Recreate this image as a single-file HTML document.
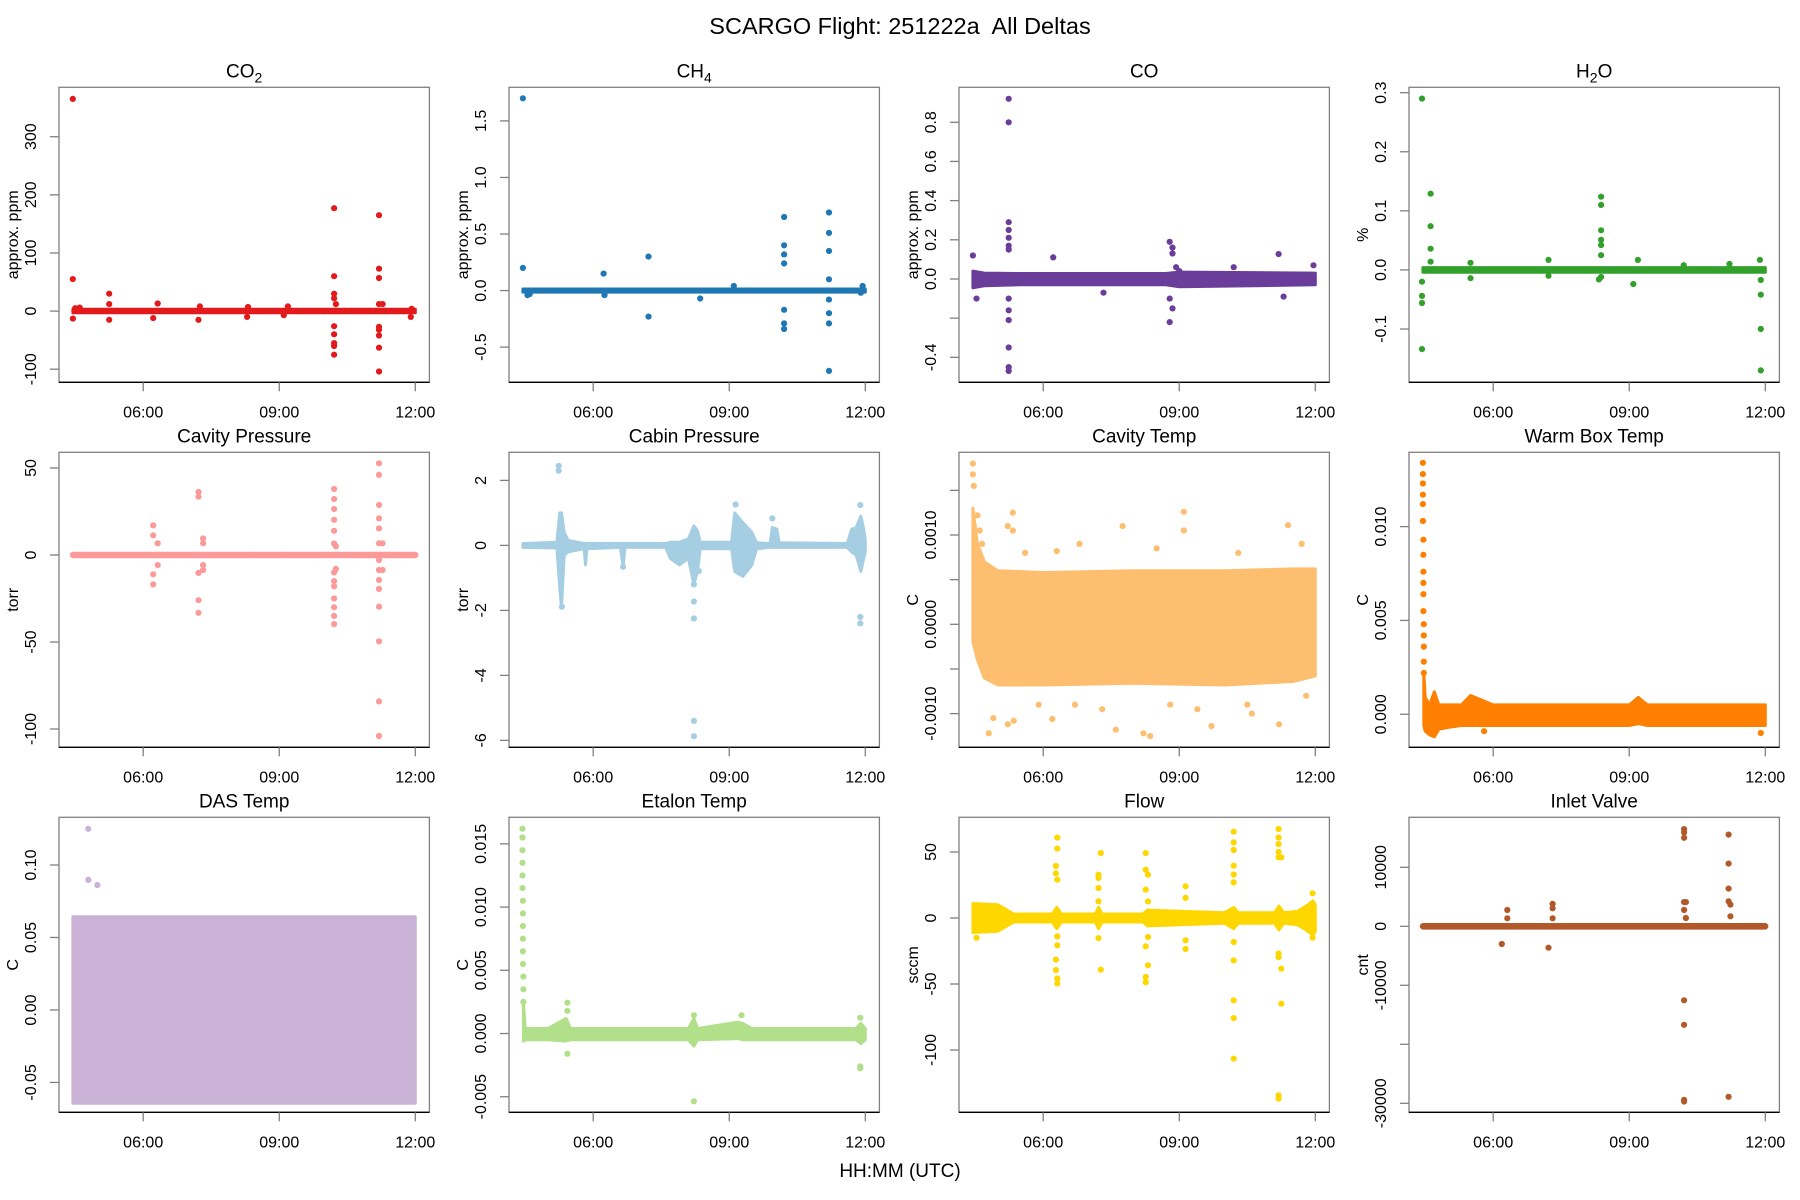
<!DOCTYPE html>
<html><head><meta charset="utf-8"><title>SCARGO Flight 251222a All Deltas</title>
<style>
html,body{margin:0;padding:0;background:#fff;}
svg{display:block;font-family:"Liberation Sans",Arial,sans-serif;}
</style></head>
<body>
<svg id="chart" xmlns="http://www.w3.org/2000/svg" width="1800" height="1200" viewBox="0 0 1800 1200">
<rect x="0" y="0" width="1800" height="1200" fill="#fff"/>
<text x="900" y="34" text-anchor="middle" font-size="23.5" style="white-space:pre" xml:space="preserve">SCARGO Flight: 251222a  All Deltas</text>
<text x="900" y="1177" text-anchor="middle" font-size="19">HH:MM (UTC)</text>
<g id="panels"></g>
</svg>
<script>
// ---- shared x axis data ----
const xTickValues = [6, 9, 12];
const xTickLabels = ["06:00", "09:00", "12:00"];

// ---- CO2 ----
const co2BandT = [4.45, 12.0];
const co2BandLo = [-3, -3];
const co2BandHi = [3, 3];
const co2PtT = [4.447,4.447,4.45,4.5,4.6,5.25,5.25,5.25,6.22,6.32,7.22,7.25,8.29,8.31,9.19,9.1,10.21,10.21,10.21,10.21,10.25,10.21,10.21,10.21,10.21,10.21,11.2,11.2,11.2,11.2,11.28,11.2,11.2,11.2,11.2,11.2,11.9,11.92];
const co2PtV = [365,55,-13,5,6,30,-15,12,-12,13,-15,8,-10,7,8,-7,177,60,30,22,12,-26,-40,-55,-60,-75,165,73,57,12,12,-27,-32,-42,-63,-104,-10,4];

// ---- CH4 ----
const ch4BandT = [4.45, 12.0];
const ch4BandLo = [-0.014, -0.014];
const ch4BandHi = [0.014, 0.014];
const ch4PtT = [4.45,4.45,4.55,4.6,6.23,6.25,7.22,7.22,8.36,9.1,10.21,10.21,10.21,10.21,10.21,10.21,10.21,11.2,11.2,11.2,11.2,11.2,11.2,11.2,11.2,11.94,11.9];
const ch4PtV = [1.70,0.20,-0.04,-0.03,0.15,-0.04,0.30,-0.23,-0.07,0.04,0.65,0.40,0.32,0.24,-0.17,-0.29,-0.34,0.69,0.51,0.35,0.10,-0.08,-0.20,-0.29,-0.71,0.04,-0.02];

// ---- CO ----
const coBandT = [4.45, 4.7, 5.5, 8.7, 9.0, 12.0];
const coBandLo = [-0.045, -0.035, -0.03, -0.03, -0.04, -0.03];
const coBandHi = [0.04, 0.03, 0.028, 0.028, 0.035, 0.03];
const coPtT = [4.45,4.53,5.24,5.24,5.24,5.24,5.24,5.24,5.24,5.24,5.24,5.24,5.24,5.24,5.24,6.22,7.33,8.79,8.85,8.85,8.79,8.79,8.85,8.93,9.0,10.2,11.19,11.3,11.96];
const coPtV = [0.12,-0.10,0.92,0.80,0.29,0.25,0.21,0.17,0.15,-0.10,-0.16,-0.21,-0.35,-0.45,-0.47,0.11,-0.07,0.19,0.16,0.13,-0.10,-0.22,-0.15,0.06,0.04,0.06,0.127,-0.09,0.07];

// ---- H2O ----
const h2oBandT = [4.45, 12.0];
const h2oBandLo = [-0.004, -0.004];
const h2oBandHi = [0.004, 0.004];
const h2oPtT = [4.43,4.43,4.43,4.43,4.43,4.62,4.62,4.62,4.62,5.5,5.5,7.22,7.22,8.38,8.38,8.38,8.38,8.38,8.38,8.38,8.33,9.09,9.19,10.2,11.21,11.90,11.90,11.90,11.90,11.88];
const h2oPtV = [0.29,-0.02,-0.044,-0.056,-0.134,0.129,0.074,0.036,0.014,-0.014,0.012,0.017,-0.010,0.124,0.11,0.067,0.051,0.042,0.025,-0.012,-0.016,-0.024,0.017,0.008,0.01,-0.017,-0.042,-0.1,-0.17,0.017];

// ---- Cavity Pressure ----
const cavpBandT = [4.45, 12.0];
const cavpBandLo = [-1, -1];
const cavpBandHi = [1, 1];
const cavpPtT = [4.45,12.0,6.22,6.22,6.22,6.22,6.32,6.32,7.22,7.22,7.22,7.22,7.22,7.32,7.32,7.32,7.32,8.35,9.15,10.21,10.21,10.21,10.21,10.21,10.21,10.21,10.21,10.21,10.21,10.21,10.21,10.21,10.25,10.25,11.2,11.2,11.2,11.2,11.2,11.2,11.2,11.2,11.2,11.2,11.2,11.2,11.2,11.2,11.28,11.28];
const cavpPtV = [0,0,17,11.3,-11.1,-16.9,6.7,-5.8,36.2,33.5,-10.3,-26,-33.2,9.5,6.7,-5.8,-8.6,0,0,37.9,32.1,26.4,20.2,13.9,6.6,-10,-15,-18,-25,-30,-35,-39.7,5,-8,52.7,46,28.7,21,15.3,6.7,-2.9,-8.6,-14.4,-19.5,-29.7,-49.6,-84.1,-104,6.7,-8.6];

// ---- Cabin Pressure ----
const cabpBandT = [4.45,5.2,5.26,5.3,5.36,5.45,5.8,5.83,5.86,6.6,6.66,6.7,7.6,7.7,7.9,8.1,8.22,8.3,8.36,9.05,9.12,9.3,9.5,9.6,9.9,9.95,10.05,10.1,11.6,11.7,11.8,11.9,11.95,12.0];
const cabpBandLo = [-0.06,-0.08,-1.3,-1.9,-0.3,-0.2,-0.1,-0.6,-0.1,-0.06,-0.66,-0.06,-0.06,-0.4,-0.6,-0.4,-1.2,-0.8,-0.1,-0.1,-0.8,-0.95,-0.6,-0.1,-0.06,-0.06,-0.06,-0.06,-0.06,-0.2,-0.3,-0.8,-0.5,-0.2];
const cabpBandHi = [0.06,0.1,1.0,1.0,0.4,0.15,0.06,0.06,0.06,0.06,0.06,0.06,0.06,0.1,0.1,0.2,0.6,0.45,0.1,0.1,1.0,0.7,0.4,0.08,0.06,0.55,0.5,0.08,0.06,0.5,0.55,0.9,0.6,0.2];
const cabpPtT = [5.24,5.24,5.31,6.66,8.22,8.22,8.22,8.22,8.22,8.33,9.14,9.95,11.89,11.89,11.89];
const cabpPtV = [2.45,2.3,-1.89,-0.66,-1.2,-1.73,-2.25,-5.4,-5.87,-0.79,1.26,0.83,1.24,-2.2,-2.4];

// ---- Cavity Temp ----
const cavtBandT = [4.45, 4.55, 4.7, 5.0, 6.0, 8.0, 10.0, 11.5, 12.0];
const cavtBandLo = [-0.0002, -0.0004, -0.0006, -0.00068, -0.00068, -0.00066, -0.00068, -0.00064, -0.00058];
const cavtBandHi = [0.0013, 0.0009, 0.0007, 0.0006, 0.00058, 0.0006, 0.0006, 0.00062, 0.00062];
const cavtPtT = [4.45,4.45,4.47,4.55,4.6,4.65,5.22,5.33,5.33,5.6,6.3,6.8,7.75,8.5,9.1,9.1,10.3,11.4,11.7,4.80,5.22,5.35,5.9,6.7,7.3,8.21,8.36,8.8,9.4,9.71,10.5,11.2,4.9,6.2,7.6,10.6,11.8];
const cavtPtV = [0.0018,0.00168,0.00155,0.00122,0.00105,0.0009,0.0011,0.00125,0.00105,0.0008,0.00082,0.0009,0.0011,0.00085,0.00126,0.00105,0.0008,0.00111,0.0009,-0.00122,-0.00112,-0.00108,-0.0009,-0.0009,-0.00095,-0.00122,-0.00125,-0.0009,-0.00095,-0.00114,-0.0009,-0.00112,-0.00105,-0.00106,-0.00118,-0.001,-0.0008];

// ---- Warm Box Temp ----
const warmBandT = [4.47, 4.5, 4.6, 4.7, 4.8, 5.0, 5.3, 5.5, 6.0, 9.0, 9.2, 9.4, 12.0];
const warmBandLo = [-0.0006, -0.0009, -0.0011, -0.0012, -0.0008, -0.0007, -0.0006, -0.0006, -0.0006, -0.0006, -0.0005, -0.0006, -0.0006];
const warmBandHi = [0.0022, 0.0009, 0.0005, 0.0012, 0.0005, 0.0005, 0.0005, 0.001, 0.0005, 0.0005, 0.0009, 0.0005, 0.0005];
const warmPtT = [4.45,4.45,4.45,4.45,4.45,4.45,4.46,4.46,4.46,4.46,4.46,4.46,4.47,4.47,4.47,4.47,4.47,5.8,11.9];
const warmPtV = [0.0134,0.0128,0.0123,0.0117,0.0112,0.0103,0.0093,0.0085,0.0076,0.0070,0.0064,0.0055,0.0048,0.0042,0.0036,0.0028,0.0022,-0.0009,-0.001];

// ---- DAS Temp ----
const dasBandT = [4.45, 12.0];
const dasBandLo = [-0.0643, -0.0643];
const dasBandHi = [0.0643, 0.0643];
const dasPtT = [4.79, 4.79, 4.99];
const dasPtV = [0.125, 0.0897, 0.0862];

// ---- Etalon Temp ----
const etalBandT = [4.46, 4.5, 5.0, 5.4, 5.5, 8.1, 8.22, 8.3, 9.2, 9.3, 9.5, 11.8, 11.9, 12.0];
const etalBandLo = [-0.0006, -0.0005, -0.0005, -0.0006, -0.0005, -0.0005, -0.001, -0.0005, -0.0004, -0.0005, -0.0005, -0.0005, -0.0008, -0.0005];
const etalBandHi = [0.0025, 0.0004, 0.0004, 0.0012, 0.0004, 0.0004, 0.0012, 0.0004, 0.0009, 0.0008, 0.0004, 0.0004, 0.0008, 0.0004];
const etalPtT = [4.44,4.44,4.44,4.44,4.44,4.44,4.45,4.45,4.45,4.45,4.45,4.45,4.46,4.46,4.46,5.43,5.43,5.43,8.22,8.22,9.27,11.89,11.89,11.89];
const etalPtV = [0.0162,0.0155,0.0145,0.0135,0.0125,0.0115,0.0105,0.0095,0.0085,0.0075,0.0065,0.0055,0.0045,0.0035,0.0025,0.00244,0.0018,-0.0016,0.00145,-0.00536,0.00145,0.00125,-0.00275,-0.0026];

// ---- Flow ----
const flowBandT = [4.45, 5.0, 5.2, 5.35, 6.2, 6.3, 6.4, 7.15, 7.22, 7.3, 8.2, 8.3, 10.0, 10.2, 10.3, 11.1, 11.2, 11.3, 11.6, 11.8, 11.95, 12.0];
const flowBandLo = [-11, -10, -6, -3, -3, -8, -3, -3, -8, -3, -3, -6, -4, -8, -4, -4, -9, -4, -5, -9, -13, -10];
const flowBandHi = [11, 10, 6, 3, 3, 8, 3, 3, 8, 3, 3, 6, 4, 8, 4, 4, 9, 4, 5, 9, 13, 10];
const flowPtT = [4.53,6.31,6.31,6.28,6.28,6.31,6.31,6.31,6.28,6.28,6.31,6.31,7.22,7.22,7.22,7.22,7.22,7.27,7.27,8.26,8.26,8.26,8.26,8.26,8.26,8.31,8.31,8.31,8.31,9.14,9.14,9.14,9.14,10.2,10.2,10.2,10.2,10.2,10.2,10.2,10.2,10.2,10.2,10.2,11.19,11.19,11.19,11.19,11.19,11.19,11.19,11.19,11.19,11.25,11.25,11.25,11.94,11.94];
const flowPtV = [-15,60.9,52.6,39.4,33.9,29,-13.9,-20.7,-31.5,-39.5,-45.8,-49.6,32.8,30.3,22.7,12.6,-15.2,49.2,-39.2,49.2,36.6,21.5,-21.5,-44.7,-48.7,32.8,12.6,-14.4,-35.8,24,15.2,-16.9,-23.5,65.4,57.3,51.5,39.6,33,27,-18.2,-32.1,-62.4,-75.8,-106.6,67.4,61,56,50,46,-27,-29.6,-136.9,-134.3,46,-38.4,-64.9,18.7,-14.9];

// ---- Inlet Valve ----
const inletBandT = [4.45, 12.0];
const inletBandLo = [-300, -300];
const inletBandHi = [300, 300];
const inletPtT = [4.45,12.0,6.31,6.31,6.19,7.31,7.31,7.22,7.31,10.21,10.21,10.21,10.21,10.21,10.21,10.21,10.21,10.21,10.25,10.25,11.19,11.19,11.19,11.19,11.19,11.23,11.23];
const inletPtV = [0,0,2770,1360,-3000,3790,3050,-3620,1360,16480,15900,15000,4100,2770,-12550,-16700,-29400,-29700,4100,1400,15550,10630,6390,4240,-28900,3670,1690];

// ---- panel setup (layout / axes, not data) ----
const panels = [
 {id:"co2", title:["CO","2",""], ylab:"approx. ppm", color:"#E31A1C", col:0,row:0, y0:-122.5,y1:385, ticks:[-100,0,100,200,300], labels:["-100","0","100","200","300"], bt:co2BandT,bl:co2BandLo,bh:co2BandHi,pt:co2PtT,pv:co2PtV},
 {id:"ch4", title:["CH","4",""], ylab:"approx. ppm", color:"#1F78B4", col:1,row:0, y0:-0.811,y1:1.797, ticks:[-0.5,0,0.5,1,1.5], labels:["-0.5","0.0","0.5","1.0","1.5"], bt:ch4BandT,bl:ch4BandLo,bh:ch4BandHi,pt:ch4PtT,pv:ch4PtV},
 {id:"co", title:["CO","",""], ylab:"approx. ppm", color:"#6A3D9A", col:2,row:0, y0:-0.5275,y1:0.9785, ticks:[-0.4,-0.2,0,0.2,0.4,0.6,0.8], labels:["-0.4","","0.0","0.2","0.4","0.6","0.8"], bt:coBandT,bl:coBandLo,bh:coBandHi,pt:coPtT,pv:coPtV},
 {id:"h2o", title:["H","2","O"], ylab:"%", color:"#33A02C", col:3,row:0, y0:-0.1902,y1:0.3091, ticks:[-0.1,0,0.1,0.2,0.3], labels:["-0.1","0.0","0.1","0.2","0.3"], bt:h2oBandT,bl:h2oBandLo,bh:h2oBandHi,pt:h2oPtT,pv:h2oPtV},
 {id:"cavity-pressure", title:["Cavity Pressure","",""], ylab:"torr", color:"#FB9A99", col:0,row:1, y0:-110.5,y1:59, ticks:[-100,-50,0,50], labels:["-100","-50","0","50"], bt:cavpBandT,bl:cavpBandLo,bh:cavpBandHi,pt:cavpPtT,pv:cavpPtV},
 {id:"cabin-pressure", title:["Cabin Pressure","",""], ylab:"torr", color:"#A6CEE3", col:1,row:1, y0:-6.213,y1:2.865, ticks:[-6,-4,-2,0,2], labels:["-6","-4","-2","0","2"], bt:cabpBandT,bl:cabpBandLo,bh:cabpBandHi,pt:cabpPtT,pv:cabpPtV},
 {id:"cavity-temp", title:["Cavity Temp","",""], ylab:"C", color:"#FDBF6F", col:2,row:1, y0:-0.001377,y1:0.001926, ticks:[-0.001,-0.0005,0,0.0005,0.001,0.0015], labels:["-0.0010","","0.0000","","0.0010",""], bt:cavtBandT,bl:cavtBandLo,bh:cavtBandHi,pt:cavtPtT,pv:cavtPtV},
 {id:"warm-box-temp", title:["Warm Box Temp","",""], ylab:"C", color:"#FF7F00", col:3,row:1, y0:-0.00176,y1:0.01396, ticks:[0,0.005,0.01], labels:["0.000","0.005","0.010"], bt:warmBandT,bl:warmBandLo,bh:warmBandHi,pt:warmPtT,pv:warmPtV},
 {id:"das-temp", title:["DAS Temp","",""], ylab:"C", color:"#CAB2D6", col:0,row:2, y0:-0.0706,y1:0.1329, ticks:[-0.05,0,0.05,0.1], labels:["-0.05","0.00","0.05","0.10"], bt:dasBandT,bl:dasBandLo,bh:dasBandHi,pt:dasPtT,pv:dasPtV},
 {id:"etalon-temp", title:["Etalon Temp","",""], ylab:"C", color:"#B2DF8A", col:1,row:2, y0:-0.00623,y1:0.0171, ticks:[-0.005,0,0.005,0.01,0.015], labels:["-0.005","0.000","0.005","0.010","0.015"], bt:etalBandT,bl:etalBandLo,bh:etalBandHi,pt:etalPtT,pv:etalPtV},
 {id:"flow", title:["Flow","",""], ylab:"sccm", color:"#FFD700", col:2,row:2, y0:-147.2,y1:76.3, ticks:[-100,-50,0,50], labels:["-100","-50","0","50"], bt:flowBandT,bl:flowBandLo,bh:flowBandHi,pt:flowPtT,pv:flowPtV},
 {id:"inlet-valve", title:["Inlet Valve","",""], ylab:"cnt", color:"#B15928", col:3,row:2, y0:-31525,y1:18475, ticks:[-30000,-20000,-10000,0,10000], labels:["-30000","","-10000","0","10000"], bt:inletBandT,bl:inletBandLo,bh:inletBandHi,pt:inletPtT,pv:inletPtV}
];

const NS = "http://www.w3.org/2000/svg";
const XMIN = 4.143, XMAX = 12.311;
const BOXW = 370.4, BOXH = 295;
function mk(tag, attrs, parent){
  const e = document.createElementNS(NS, tag);
  for (const k in attrs) e.setAttribute(k, attrs[k]);
  if (parent) parent.appendChild(e);
  return e;
}
const root = document.getElementById("panels");
panels.forEach(p => {
  const L = 59 + p.col*450, T = 87.3 + p.row*365, R = L + BOXW, B = T + BOXH;
  const xs = t => L + (t - XMIN)/(XMAX - XMIN)*BOXW;
  const ys = v => B - (v - p.y0)/(p.y1 - p.y0)*BOXH;
  const g = mk("g", {}, root);
  
  

  const tt = mk("text", {x:(L+R)/2, y:T-10, "text-anchor":"middle", "font-size":"19"}, g);
  
  
  tt.appendChild(document.createTextNode(p.title[0]));
  if (p.title[1]) {
    const s = mk("tspan", {"font-size":"14", dy:"5"}, tt);
    s.textContent = p.title[1];
    if (p.title[2]) { const s2 = mk("tspan", {"font-size":"19", dy:"-5"}, tt); s2.textContent = p.title[2]; }
  }

  const clipId = "clip-" + p.id;
  const cp = mk("clipPath", {id:clipId}, g);
  mk("rect", {x:L, y:T, width:BOXW, height:BOXH}, cp);
  const mg = mk("g", {"clip-path":"url(#"+clipId+")"}, g);
  
  
  let pts = [];
  for (let i=0;i<p.bt.length;i++) pts.push(xs(p.bt[i]).toFixed(1)+","+ys(p.bh[i]).toFixed(1));
  for (let i=p.bt.length-1;i>=0;i--) pts.push(xs(p.bt[i]).toFixed(1)+","+ys(p.bl[i]).toFixed(1));
  const band = mk("polygon", {points:pts.join(" "), fill:p.color, stroke:p.color, "stroke-width":"3", "stroke-linejoin":"round"}, mg);
  
  
  for (let i=0;i<p.pt.length;i++){
    const c = mk("circle", {cx:xs(p.pt[i]).toFixed(1), cy:ys(p.pv[i]).toFixed(1), r:"3.1", fill:p.color}, mg);
    
    
  }

  const box = mk("rect", {x:L, y:T, width:BOXW, height:BOXH, fill:"none", stroke:"#808080", "stroke-width":"1.3"}, g);
  
  
  const xl = mk("line", {x1:L, y1:B, x2:R, y2:B, stroke:"#000", "stroke-width":"1.3"}, g);
  
  

  xTickValues.forEach((v,i) => {
    const x = xs(v);
    mk("line", {x1:x, y1:B, x2:x, y2:B+9, stroke:"#808080", "stroke-width":"1.3"}, g);
    const lb = mk("text", {x:x, y:B+35, "text-anchor":"middle", "font-size":"16"}, g);
    
    
    lb.textContent = xTickLabels[i];
  });
  p.ticks.forEach((v,i) => {
    const y = ys(v);
    mk("line", {x1:L, y1:y, x2:L-9, y2:y, stroke:"#808080", "stroke-width":"1.3"}, g);
    if (p.labels[i]) {
      const lb = mk("text", {transform:"translate("+(L-23)+","+y.toFixed(1)+") rotate(-90)", "text-anchor":"middle", "font-size":"16"}, g);
      
      
      lb.textContent = p.labels[i];
    }
  });
  const yl = mk("text", {transform:"translate("+(L-41)+","+((T+B)/2).toFixed(1)+") rotate(-90)", "text-anchor":"middle", "font-size":"16"}, g);
  
  
  yl.textContent = p.ylab;
});
</script>
</body></html>
